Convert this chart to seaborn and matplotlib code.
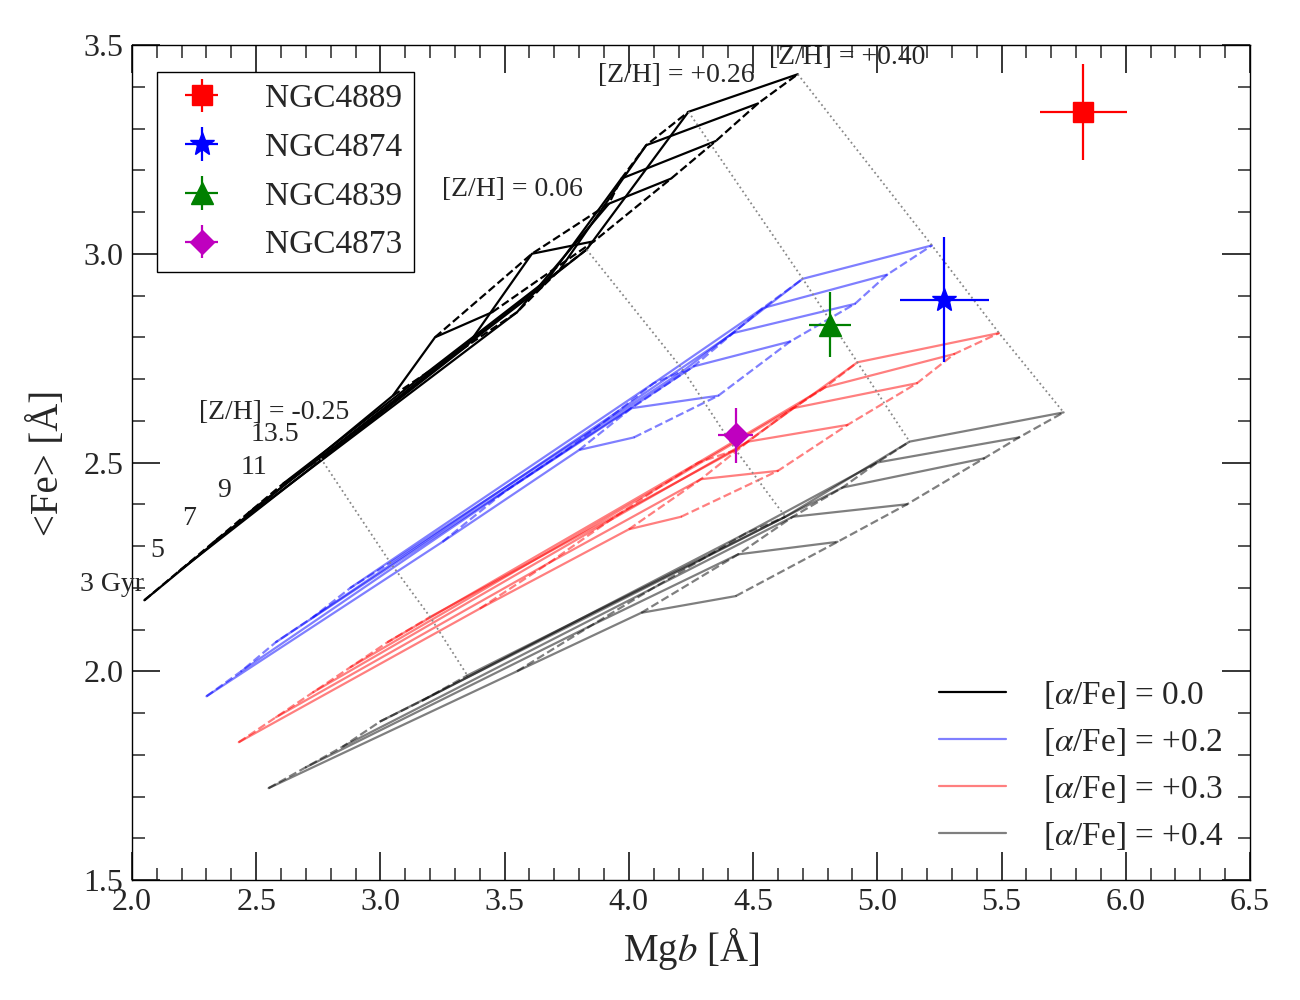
import numpy as np
import pandas as pd
import matplotlib
matplotlib.use('Agg')
import matplotlib.pyplot as plt
import seaborn as sns
from matplotlib.lines import Line2D
from matplotlib.ticker import MultipleLocator

# model grid: rows = [Z/H], columns = ages
ages = [3, 5, 7, 9, 11, 13.5]
zh = [-0.25, 0.06, 0.26, 0.40]

# [alpha/Fe] = 0.0
mgb_a00 = [[2.05, 2.19, 2.33, 2.47, 2.61, 2.76],
           [3.05, 3.35, 3.55, 3.65, 3.72, 3.83],
           [3.22, 3.61, 3.92, 3.97, 4.07, 4.24],
           [3.45, 3.86, 4.17, 4.35, 4.52, 4.68]]
fe_a00 = [[2.17, 2.24, 2.31, 2.38, 2.45, 2.51],
          [2.66, 2.78, 2.86, 2.92, 2.96, 3.01],
          [2.80, 3.00, 3.12, 3.18, 3.26, 3.34],
          [2.86, 3.03, 3.18, 3.27, 3.36, 3.43]]

# [alpha/Fe] = +0.2
mgb_a02 = [[2.30, 2.44, 2.58, 2.73, 2.88, 3.04],
           [3.25, 3.50, 3.75, 3.95, 4.10, 4.22],
           [3.80, 4.01, 4.26, 4.42, 4.54, 4.70],
           [4.02, 4.36, 4.65, 4.91, 5.04, 5.22]]
fe_a02 = [[1.94, 2.00, 2.07, 2.13, 2.20, 2.26],
          [2.31, 2.43, 2.53, 2.62, 2.69, 2.72],
          [2.53, 2.63, 2.73, 2.81, 2.87, 2.94],
          [2.56, 2.66, 2.79, 2.88, 2.95, 3.02]]

# [alpha/Fe] = +0.3
mgb_a03 = [[2.43, 2.58, 2.73, 2.88, 3.03, 3.20],
           [3.40, 3.68, 3.92, 4.12, 4.28, 4.43],
           [4.00, 4.29, 4.48, 4.66, 4.79, 4.92],
           [4.21, 4.60, 4.88, 5.16, 5.31, 5.49]]
fe_a03 = [[1.83, 1.89, 1.95, 2.01, 2.07, 2.13],
          [2.15, 2.26, 2.36, 2.44, 2.50, 2.53],
          [2.34, 2.46, 2.55, 2.63, 2.68, 2.74],
          [2.37, 2.48, 2.59, 2.69, 2.76, 2.81]]

# [alpha/Fe] = +0.4
mgb_a04 = [[2.55, 2.70, 2.85, 3.00, 3.17, 3.35],
           [3.55, 3.85, 4.10, 4.30, 4.47, 4.63],
           [4.05, 4.44, 4.66, 4.86, 5.00, 5.13],
           [4.43, 4.84, 5.12, 5.43, 5.57, 5.75]]
fe_a04 = [[1.72, 1.77, 1.82, 1.88, 1.93, 1.99],
          [2.00, 2.11, 2.20, 2.27, 2.33, 2.37],
          [2.14, 2.28, 2.37, 2.44, 2.50, 2.55],
          [2.18, 2.31, 2.40, 2.51, 2.56, 2.62]]

alpha_labels = ['[$\\alpha$/Fe] = 0.0', '[$\\alpha$/Fe] = +0.2',
                '[$\\alpha$/Fe] = +0.3', '[$\\alpha$/Fe] = +0.4']

# galaxies
gal_names = ['NGC4889', 'NGC4874', 'NGC4839', 'NGC4873']
gal_mgb = [5.83, 5.27, 4.81, 4.43]
gal_fe = [3.34, 2.89, 2.83, 2.565]
gal_mgb_err = [0.175, 0.18, 0.083, 0.07]
gal_fe_err = [0.115, 0.15, 0.078, 0.065]

sns.set_style('ticks')
plt.rcParams['font.family'] = ['Liberation Serif', 'DejaVu Serif']
plt.rcParams['mathtext.fontset'] = 'stix'

fig = plt.figure(figsize=(13, 10), dpi=100)
ax = fig.add_axes([0.1015, 0.12, 0.86, 0.835])

grids = [(mgb_a00, fe_a00, 'black', 1.0),
         (mgb_a02, fe_a02, 'blue', 0.5),
         (mgb_a03, fe_a03, 'red', 0.5),
         (mgb_a04, fe_a04, 'black', 0.5)]

for mgb, fe, col, al in grids:
    rows = []
    for j, z in enumerate(zh):
        for i, a in enumerate(ages):
            rows.append({'mgb': mgb[j][i], 'fe': fe[j][i], 'age': a, 'zh': z})
    df = pd.DataFrame(rows)
    # constant age lines (solid)
    sns.lineplot(data=df, x='mgb', y='fe', units='age', estimator=None,
                 sort=False, color=col, alpha=al, lw=1.6, ax=ax, legend=False)
    # constant metallicity lines (dashed)
    sns.lineplot(data=df, x='mgb', y='fe', units='zh', estimator=None,
                 sort=False, color=col, alpha=al, lw=1.6, ls='--', ax=ax,
                 legend=False)

# dotted lines joining the oldest models of equal [Z/H]
for j in range(len(zh)):
    xs = [g[0][j][-1] for g in grids]
    ys = [g[1][j][-1] for g in grids]
    ax.plot(xs, ys, ls=':', color='#888888', lw=1.3)

# galaxies with error bars
gal_style = [('s', 'red', 14), ('*', 'blue', 18), ('^', 'green', 16), ('D', 'm', 12)]
for k, name in enumerate(gal_names):
    m, c, s = gal_style[k]
    ax.errorbar(gal_mgb[k], gal_fe[k], xerr=gal_mgb_err[k], yerr=gal_fe_err[k],
                fmt=m, color=c, ms=s, elinewidth=1.6, capsize=0, label=name,
                zorder=5)

# labels on the grid
ax.text(2.27, 2.62, '[Z/H] = -0.25', fontsize=20, va='center', ha='left')
ax.text(3.53, 3.153, '[Z/H] = 0.06', fontsize=20, va='center', ha='center')
ax.text(4.19, 3.428, '[Z/H] = +0.26', fontsize=20, va='center', ha='center')
ax.text(4.88, 3.469, '[Z/H] = +0.40', fontsize=20, va='center', ha='center')
age_text = ['3 Gyr', '5', '7', '9', '11', '13.5']
age_x = [1.92, 2.10, 2.23, 2.37, 2.49, 2.576]
age_y = [2.207, 2.29, 2.367, 2.434, 2.487, 2.566]
for t, x, y in zip(age_text, age_x, age_y):
    ax.text(x, y, t, fontsize=20, ha='center', va='center')

ax.set_xlim(2.0, 6.5)
ax.set_ylim(1.5, 3.5)
ax.xaxis.set_major_locator(MultipleLocator(0.5))
ax.xaxis.set_minor_locator(MultipleLocator(0.1))
ax.yaxis.set_major_locator(MultipleLocator(0.5))
ax.yaxis.set_minor_locator(MultipleLocator(0.1))
ax.tick_params(which='both', direction='in', top=True, right=True, labelsize=23)
ax.tick_params(which='major', length=20, width=1.3, pad=6)
ax.tick_params(which='minor', length=9, width=1.1)
for sp in ax.spines.values():
    sp.set_linewidth(1.0)
    sp.set_color('black')

ax.set_xlabel('Mg$b$ [Å]', fontsize=28, labelpad=6)
ax.set_ylabel('<Fe> [Å]', fontsize=28, labelpad=12)

leg1 = ax.legend(loc='upper left', bbox_to_anchor=(0.022, 0.968), borderaxespad=0,
                 fontsize=24, frameon=True, fancybox=False, edgecolor='black',
                 framealpha=1, numpoints=1, handlelength=2.0, handletextpad=0.9,
                 labelspacing=0.55, borderpad=0.35)
leg1.get_frame().set_linewidth(1.0)
ax.add_artist(leg1)

alpha_cols = ['black', 'blue', 'red', 'black']
alpha_al = [1.0, 0.5, 0.5, 0.5]
handles = [Line2D([0], [0], color=c, alpha=a, lw=1.6) for c, a in zip(alpha_cols, alpha_al)]
ax.legend(handles, alpha_labels, loc='lower right', bbox_to_anchor=(1.003, -0.002),
          fontsize=24, frameon=False, handlelength=2.0, handletextpad=1.1,
          labelspacing=0.45)

fig.savefig('out.png', dpi=100)
